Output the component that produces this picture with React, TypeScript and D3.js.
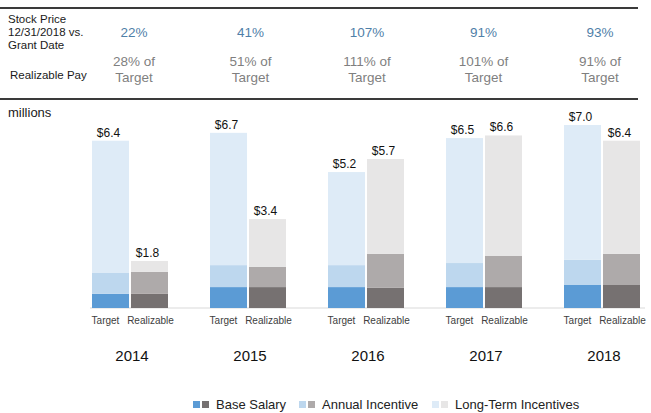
import React from 'react';
import * as d3 from 'd3';

// chart values (millions)
const years = ['2014', '2015', '2016', '2017', '2018'];
const stockPct = ['22%', '41%', '107%', '91%', '93%'];
const realizablePct = ['28%', '51%', '111%', '101%', '91%'];

const targetBase = [0.54, 0.8, 0.8, 0.8, 0.88];
const targetAnnual = [0.8, 0.84, 0.84, 0.92, 0.96];
const targetLti = [5.06, 5.06, 3.56, 4.78, 5.16];

const realBase = [0.54, 0.8, 0.77, 0.8, 0.88];
const realAnnual = [0.84, 0.77, 1.3, 1.19, 1.19];
const realLti = [0.42, 1.83, 3.63, 4.61, 4.33];

const kinds = ['Target', 'Realizable'];
const keys = ['base', 'annual', 'lti'];

const colors = {
  Target: { base: '#5b9bd5', annual: '#bdd7ee', lti: '#deebf7' },
  Realizable: { base: '#767171', annual: '#aeaaaa', lti: '#e7e6e6' },
};

const legendItems = [
  { label: 'Base Salary', key: 'base', x: 193 },
  { label: 'Annual Incentive', key: 'annual', x: 299 },
  { label: 'Long-Term Incentives', key: 'lti', x: 432 },
];

const font = '"Liberation Sans", Arial, sans-serif';

const App = () => {
  const width = 651;
  const height = 413;

  const rows = years.flatMap((year, i) => [
    { year, kind: 'Target', base: targetBase[i], annual: targetAnnual[i], lti: targetLti[i] },
    { year, kind: 'Realizable', base: realBase[i], annual: realAnnual[i], lti: realLti[i] },
  ]);

  const series = d3.stack().keys(keys)(rows as any);

  const x = d3.scaleBand().domain(years).range([71, 661]).paddingInner(0.356).paddingOuter(0.178);
  const xInner = d3.scaleBand().domain(kinds).range([0, x.bandwidth()]).paddingInner(0.05);
  const y = d3.scaleLinear().domain([0, 7]).range([308, 125]);

  // table columns above the chart
  const col = d3.scalePoint().domain(years).range([134, 600]);

  const fmt = d3.format('.1f');

  return (
    <svg
      width={width}
      height={height}
      style={{ position: 'absolute', left: 0, top: 0, background: 'white', fontFamily: font }}
    >
      {/* table rules */}
      <line x1={0} x2={638} y1={8} y2={8} stroke="#3a3a3a" strokeWidth={2} />
      <line x1={0} x2={638} y1={99} y2={99} stroke="#3a3a3a" strokeWidth={2} />

      <text x={8} y={23} fontSize={11.5} fill="#1a1a1a">
        <tspan x={8} dy={0}>Stock Price</tspan>
        <tspan x={8} dy={13}>12/31/2018 vs.</tspan>
        <tspan x={8} dy={13}>Grant Date</tspan>
      </text>
      <text x={10} y={79} fontSize={11.5} fill="#1a1a1a">Realizable Pay</text>

      {years.map((yr, i) => (
        <g key={yr}>
          <text x={col(yr)} y={37} fontSize={13.5} fill="#4f80a8" textAnchor="middle">
            {stockPct[i]}
          </text>
          <text x={col(yr)} y={66} fontSize={13.5} fill="#7f7f7f" textAnchor="middle">
            {realizablePct[i]} of
          </text>
          <text x={col(yr)} y={82} fontSize={13.5} fill="#7f7f7f" textAnchor="middle">
            Target
          </text>
        </g>
      ))}

      <text x={8} y={117} fontSize={13} fill="#1a1a1a">millions</text>

      {/* baseline */}
      <line x1={90} x2={645} y1={y(0)} y2={y(0)} stroke="#d9d9d9" strokeWidth={1} />

      {series.map(s =>
        s.map((d, j) => {
          const row = rows[j];
          const bx = (x(row.year) as number) + (xInner(row.kind) as number);
          return (
            <rect
              key={s.key + j}
              x={bx}
              y={y(d[1])}
              width={xInner.bandwidth()}
              height={y(d[0]) - y(d[1])}
              fill={colors[row.kind][s.key]}
            />
          );
        })
      )}

      {/* totals */}
      {rows.map((row, j) => {
        const total = row.base + row.annual + row.lti;
        const bx = (x(row.year) as number) + (xInner(row.kind) as number) + xInner.bandwidth() / 2;
        return (
          <text key={'t' + j} x={bx - 2} y={y(total) - 4} fontSize={12} fill="#111" textAnchor="middle">
            ${fmt(total)}
          </text>
        );
      })}

      {/* category labels */}
      {rows.map((row, j) => {
        const bx = (x(row.year) as number) + (xInner(row.kind) as number) + xInner.bandwidth() / 2;
        return (
          <text
            key={'c' + j}
            x={row.kind === 'Target' ? bx - 5 : bx + 1}
            y={324}
            fontSize={10}
            fill="#404040"
            textAnchor="middle"
          >
            {row.kind}
          </text>
        );
      })}

      {years.map(yr => (
        <text
          key={'y' + yr}
          x={(x(yr) as number) + x.bandwidth() / 2 + 2}
          y={361}
          fontSize={15}
          fill="#111"
          textAnchor="middle"
        >
          {yr}
        </text>
      ))}

      {/* legend */}
      {legendItems.map(item => (
        <g key={item.key} transform={`translate(${item.x},401)`}>
          <rect x={0} y={0} width={7} height={7} fill={colors.Target[item.key]} />
          <rect x={9} y={0} width={7} height={7} fill={colors.Realizable[item.key]} />
          <text x={23} y={7.5} fontSize={13} fill="#222">{item.label}</text>
        </g>
      ))}
    </svg>
  );
};

export default App;
